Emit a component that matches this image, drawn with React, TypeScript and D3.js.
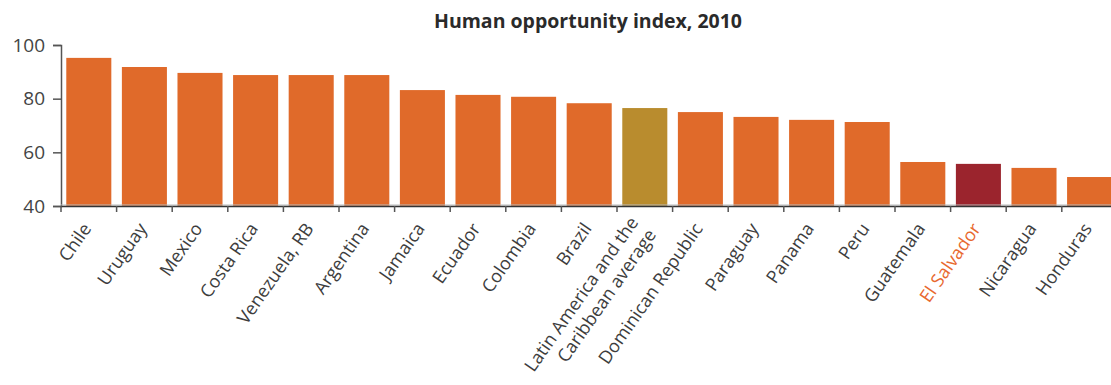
import React, { useEffect, useRef } from 'react';
import * as d3 from 'd3';

const countries = [
  'Chile', 'Uruguay', 'Mexico', 'Costa Rica', 'Venezuela, RB', 'Argentina',
  'Jamaica', 'Ecuador', 'Colombia', 'Brazil', 'Latin America and the\nCaribbean average',
  'Dominican Republic', 'Paraguay', 'Panama', 'Peru', 'Guatemala', 'El Salvador',
  'Nicaragua', 'Honduras',
];
const values = [
  95.2, 91.8, 89.6, 88.8, 88.8, 88.8, 83.2, 81.4, 80.7, 78.3, 76.5,
  75.0, 73.2, 72.1, 71.3, 56.4, 55.7, 54.2, 50.8,
];
const yTicks = [40, 60, 80, 100];
const averageLabel = 'Latin America and the\nCaribbean average';
const highlightLabel = 'El Salvador';

const width = 1111;
const height = 385;

const App: React.FC = () => {
  const svgRef = useRef<SVGSVGElement>(null);

  useEffect(() => {
    if (!svgRef.current) return;
    const svg = d3.select(svgRef.current);
    svg.selectAll('*').remove();

    const left = 61;
    const step = 55.6;
    const x = d3.scaleBand<string>()
      .domain(countries)
      .range([left, left + step * countries.length])
      .paddingInner(0.19)
      .paddingOuter(0.095);
    const y = d3.scaleLinear().domain([40, 100]).range([206, 45]);

    const font = '"Open Sans", sans-serif';
    const barColor = (c: string) =>
      c === averageLabel ? '#b98c2e' : c === highlightLabel ? '#9b242d' : '#e06a2a';

    // title
    svg.append('text')
      .attr('x', 588)
      .attr('y', 28)
      .attr('text-anchor', 'middle')
      .style('font-family', font)
      .style('font-size', '19.5px')
      .style('font-weight', 'bold')
      .style('fill', '#2a2a2a')
      .text('Human opportunity index, 2010');

    // bars
    svg.append('g')
      .selectAll('rect')
      .data(countries)
      .enter().append('rect')
      .attr('x', d => x(d)!)
      .attr('width', x.bandwidth())
      .attr('y', (d, i) => y(values[i]))
      .attr('height', (d, i) => y(40) - y(values[i]))
      .style('fill', d => barColor(d));

    // y axis
    const yAxis = svg.append('g')
      .attr('transform', `translate(${left},0)`)
      .call(d3.axisLeft(y).tickValues(yTicks).tickSize(8).tickPadding(8));
    yAxis.select('.domain').attr('stroke', '#555').attr('stroke-width', 1.5);
    yAxis.selectAll('.tick line').attr('stroke', '#555').attr('stroke-width', 1.5);
    yAxis.selectAll('.tick text')
      .style('font-family', font)
      .style('font-size', '19px')
      .style('fill', '#444');

    // x axis baseline + ticks at band boundaries
    const xAxis = svg.append('g');
    xAxis.append('line')
      .attr('x1', left).attr('x2', width)
      .attr('y1', y(40) - 1).attr('y2', y(40) - 1)
      .attr('stroke', '#bbb').attr('stroke-width', 1);
    xAxis.append('line')
      .attr('x1', left).attr('x2', width)
      .attr('y1', y(40) + 0.5).attr('y2', y(40) + 0.5)
      .attr('stroke', '#333').attr('stroke-width', 1.5);
    const bounds = d3.range(countries.length + 1).map(i => left + i * step);
    xAxis.selectAll('line.tk')
      .data(bounds)
      .enter().append('line')
      .attr('class', 'tk')
      .attr('x1', d => d).attr('x2', d => d)
      .attr('y1', y(40)).attr('y2', y(40) + 6)
      .attr('stroke', '#555').attr('stroke-width', 1.5);

    // x labels
    const labels = svg.append('g')
      .selectAll('text')
      .data(countries)
      .enter().append('text')
      .attr('transform', d => `translate(${x(d)! + x.bandwidth() / 2 - 2},${y(40) + 19}) rotate(-55)`)
      .attr('text-anchor', 'end')
      .style('font-family', font)
      .style('font-size', '18px')
      .style('fill', d => (d === highlightLabel ? '#e8692f' : '#3d3d3d'));

    labels.each(function (d) {
      const lines = d.split('\n');
      const t = d3.select(this);
      lines.forEach((ln, i) => {
        t.append('tspan')
          .attr('x', 0)
          .attr('dy', i === 0 ? `${0.35 - (lines.length - 1) * 0.6}em` : '1.2em')
          .text(ln);
      });
    });
  }, []);

  return (
    <svg
      ref={svgRef}
      width={width}
      height={height}
      style={{ position: 'absolute', left: 0, top: 0, background: '#fff' }}
    />
  );
};

export default App;
